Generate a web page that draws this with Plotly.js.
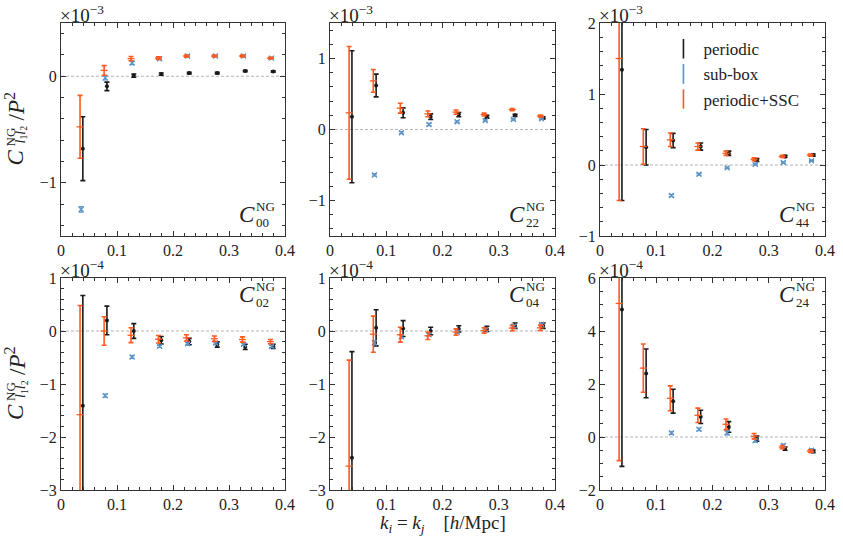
<!DOCTYPE html>
<html>
<head>
<meta charset="utf-8">
<script src="https://cdn.plot.ly/plotly-3.0.1.min.js"></script>
<style>
  body { margin: 0; background: white; }
  #chart { width: 843px; height: 538px; }
</style>
</head>
<body>
<div id="chart"></div>
<script>
// k bins (h/Mpc), slightly shifted per estimator
const kPeriodic = [0.039, 0.082, 0.13, 0.179, 0.229, 0.279, 0.329, 0.379];
const kSubbox = [0.036, 0.079, 0.127, 0.176, 0.226, 0.276, 0.326, 0.376];
const kSsc = [0.034, 0.077, 0.125, 0.174, 0.224, 0.274, 0.324, 0.374];

// C00 (x1e-3)
const c00Periodic = [-0.68, -0.095, 0.006, 0.02, 0.03, 0.03, 0.05, 0.045];
const c00PeriodicErr = [0.3, 0.04, 0.015, 0.01, 0.008, 0.008, 0.007, 0.007];
const c00Subbox = [-1.25, -0.015, 0.125, 0.165, 0.19, 0.19, 0.19, 0.17];
const c00SubboxErr = [0.025, 0.02, 0.015, 0.01, 0.008, 0.007, 0.007, 0.007];
const c00Ssc = [-0.475, 0.055, 0.165, 0.17, 0.19, 0.19, 0.19, 0.17];
const c00SscErr = [0.295, 0.045, 0.02, 0.012, 0.01, 0.008, 0.008, 0.008];

// C22 (x1e-3)
const c22Periodic = [0.18, 0.62, 0.235, 0.18, 0.21, 0.18, 0.2, 0.165];
const c22PeriodicErr = [0.93, 0.16, 0.07, 0.04, 0.03, 0.02, 0.015, 0.015];
const c22Subbox = [-2.0, -0.64, -0.045, 0.07, 0.11, 0.125, 0.14, 0.15];
const c22SubboxErr = [0.03, 0.015, 0.015, 0.015, 0.012, 0.01, 0.01, 0.01];
const c22Ssc = [0.235, 0.685, 0.3, 0.22, 0.245, 0.21, 0.28, 0.19];
const c22SscErr = [0.935, 0.16, 0.07, 0.04, 0.03, 0.02, 0.015, 0.015];

// C44 (x1e-3)
const c44Periodic = [1.34, 0.25, 0.345, 0.26, 0.165, 0.07, 0.12, 0.14];
const c44PeriodicErr = [1.84, 0.25, 0.1, 0.05, 0.03, 0.02, 0.015, 0.015];
const c44Subbox = [-1.6, -1.3, -0.43, -0.13, -0.04, 0.01, 0.035, 0.06];
const c44SubboxErr = [0.03, 0.02, 0.015, 0.012, 0.01, 0.01, 0.01, 0.01];
const c44Ssc = [1.5, 0.26, 0.355, 0.26, 0.165, 0.08, 0.12, 0.14];
const c44SscErr = [2.0, 0.25, 0.095, 0.05, 0.03, 0.02, 0.015, 0.015];

// C02 (x1e-4)
const c02Periodic = [-1.41, 0.2, 0.0, -0.175, -0.2, -0.255, -0.3, -0.29];
const c02PeriodicErr = [2.08, 0.27, 0.14, 0.07, 0.06, 0.05, 0.05, 0.04];
const c02Subbox = [-3.6, -1.22, -0.49, -0.29, -0.24, -0.225, -0.25, -0.29];
const c02SubboxErr = [0.05, 0.03, 0.025, 0.02, 0.02, 0.02, 0.02, 0.02];
const c02Ssc = [-1.58, 0.0, -0.08, -0.155, -0.13, -0.145, -0.16, -0.2];
const c02SscErr = [2.06, 0.27, 0.14, 0.07, 0.06, 0.05, 0.05, 0.04];

// C04 (x1e-4)
const c04Periodic = [-2.39, 0.06, 0.045, 0.0, 0.04, 0.04, 0.1, 0.1];
const c04PeriodicErr = [2.0, 0.34, 0.15, 0.07, 0.06, 0.05, 0.05, 0.05];
const c04Subbox = [-3.8, -0.22, -0.11, -0.07, -0.025, 0.025, 0.09, 0.125];
const c04SubboxErr = [0.05, 0.04, 0.03, 0.02, 0.02, 0.02, 0.02, 0.02];
const c04Ssc = [-2.55, -0.06, -0.07, -0.09, -0.02, 0.01, 0.055, 0.06];
const c04SscErr = [2.0, 0.34, 0.14, 0.07, 0.06, 0.05, 0.05, 0.05];

// C24 (x1e-4)
const c24Periodic = [4.81, 2.4, 1.35, 0.76, 0.38, -0.06, -0.44, -0.54];
const c24PeriodicErr = [5.92, 0.92, 0.45, 0.25, 0.2, 0.1, 0.06, 0.05];
const c24Subbox = [-2.8, -2.3, 0.15, 0.29, 0.16, -0.13, -0.32, -0.5];
const c24SubboxErr = [0.05, 0.05, 0.05, 0.05, 0.08, 0.06, 0.05, 0.05];
const c24Ssc = [5.04, 2.6, 1.46, 0.82, 0.48, 0.03, -0.38, -0.53];
const c24SscErr = [5.93, 0.91, 0.47, 0.27, 0.2, 0.1, 0.06, 0.05];

const seriesNames = ["periodic", "sub-box", "periodic+SSC"];
const panelNames = ["00", "22", "44", "02", "04", "24"];
const panelExponents = ["−3", "−3", "−3", "−4", "−4", "−4"];
const panelRanges = [[-1.5, 0.5], [-1.5, 1.5], [-1, 2], [-3, 1], [-3, 1], [-2, 6]];
const panelDticks = [1, 1, 1, 1, 1, 2];
const panelMinor = [0.2, 0.2, 0.2, 0.2, 0.2, 0.5];
const labelAtTop = [false, false, false, true, true, true];

const panels = [
  [c00Periodic, c00PeriodicErr, c00Subbox, c00SubboxErr, c00Ssc, c00SscErr],
  [c22Periodic, c22PeriodicErr, c22Subbox, c22SubboxErr, c22Ssc, c22SscErr],
  [c44Periodic, c44PeriodicErr, c44Subbox, c44SubboxErr, c44Ssc, c44SscErr],
  [c02Periodic, c02PeriodicErr, c02Subbox, c02SubboxErr, c02Ssc, c02SscErr],
  [c04Periodic, c04PeriodicErr, c04Subbox, c04SubboxErr, c04Ssc, c04SscErr],
  [c24Periodic, c24PeriodicErr, c24Subbox, c24SubboxErr, c24Ssc, c24SscErr],
];

const W = 843, H = 538;
const colPx = [[61, 285], [330, 555], [600, 825]];
const rowPx = [[23, 236], [278, 490]];

const FONT = "'Liberation Serif', serif";
const TXT = "#222";
const BLACK = "#1a1a1a";
const BLUE = "#5b93c7";
const ORANGE = "#ff5a1f";
const COLORS = [BLACK, BLUE, ORANGE];

function makeTraces() {
  const traces = [];
  panels.forEach((p, i) => {
    const ax = i === 0 ? "" : String(i + 1);
    traces.push({
      x: kPeriodic, y: p[0], type: "scatter", mode: "markers",
      name: seriesNames[0], showlegend: false,
      xaxis: "x" + ax, yaxis: "y" + ax,
      marker: { color: BLACK, size: 4, symbol: "circle" },
      error_y: { type: "data", array: p[1], color: BLACK, thickness: 1.6, width: 2.5 },
    });
    traces.push({
      x: kSubbox, y: p[2], type: "scatter", mode: "markers",
      name: seriesNames[1], showlegend: false,
      xaxis: "x" + ax, yaxis: "y" + ax,
      marker: { color: BLUE, size: 5, symbol: "x-thin-open", line: { color: BLUE, width: 1.3 } },
      error_y: { type: "data", array: p[3], color: BLUE, thickness: 1.2, width: 2.5 },
    });
    traces.push({
      x: kSsc, y: p[4], type: "scatter", mode: "markers",
      name: seriesNames[2], showlegend: false,
      xaxis: "x" + ax, yaxis: "y" + ax,
      marker: { color: ORANGE, size: 5, symbol: "line-ew-open", line: { color: ORANGE, width: 1.3 } },
      error_y: { type: "data", array: p[5], color: ORANGE, thickness: 1.6, width: 2.5 },
    });
  });

  // legend entries: vertical bar glyph like an error bar (no data of their own)
  seriesNames.forEach((name, j) => {
    traces.push({
      x: [null], y: [null], type: "scatter", mode: "markers", name: name,
      xaxis: "x3", yaxis: "y3", showlegend: true,
      marker: { color: COLORS[j], size: 14, symbol: "line-ns-open", line: { color: COLORS[j], width: 1.6 } },
    });
  });
  return traces;
}

function makeLayout() {
  const layout = {
    width: W, height: H,
    margin: { l: 0, r: 0, t: 0, b: 0 },
    paper_bgcolor: "white", plot_bgcolor: "white",
    font: { family: FONT, size: 16, color: TXT },
    showlegend: true,
    legend: {
      x: 0.787, y: 0.942, xanchor: "left", yanchor: "top",
      bgcolor: "rgba(0,0,0,0)", font: { family: FONT, size: 17, color: TXT },
      tracegroupgap: 0, itemwidth: 30,
    },
    shapes: [], annotations: [],
  };

  panels.forEach((p, i) => {
    const ax = i === 0 ? "" : String(i + 1);
    const col = colPx[i % 3], row = rowPx[Math.floor(i / 3)];
    const axisCommon = {
      showline: true, linecolor: "#333", linewidth: 1, mirror: "allticks",
      ticks: "inside", ticklen: 5, tickwidth: 1, tickcolor: "#333",
      showgrid: false, zeroline: false,
      tickfont: { family: FONT, size: 16, color: TXT },
    };
    layout["xaxis" + ax] = Object.assign({}, axisCommon, {
      domain: [col[0] / W, col[1] / W], anchor: "y" + ax,
      range: [0, 0.4], dtick: 0.1, tick0: 0,
      minor: { ticks: "inside", dtick: 0.02, ticklen: 3, tickcolor: "#333" },
    });
    layout["yaxis" + ax] = Object.assign({}, axisCommon, {
      domain: [1 - row[1] / H, 1 - row[0] / H], anchor: "x" + ax,
      range: panelRanges[i], dtick: panelDticks[i], tick0: 0,
      minor: { ticks: "inside", dtick: panelMinor[i], ticklen: 3, tickcolor: "#333" },
    });

    layout.shapes.push({
      type: "line", xref: "x" + ax + " domain", x0: 0, x1: 1,
      yref: "y" + ax, y0: 0, y1: 0, layer: "below",
      line: { color: "#b5b5b5", width: 1, dash: "3px,2px" },
    });

    // offset label
    layout.annotations.push({
      xref: "x" + ax + " domain", yref: "y" + ax + " domain", x: 0, y: 1,
      xanchor: "left", yanchor: "bottom", showarrow: false, xshift: -3, yshift: -5,
      text: "×10<sup>" + panelExponents[i] + "</sup>",
      font: { family: FONT, size: 19, color: TXT },
    });

    // panel label C^NG_ll
    const yBase = labelAtTop[i] ? 1 : 0;
    const dy = labelAtTop[i] ? -38 : 0;
    const xr = "x" + ax + " domain", yr = "y" + ax + " domain";
    layout.annotations.push({
      xref: xr, yref: yr, x: 1, y: yBase, xanchor: "right", yanchor: "bottom",
      xshift: -28, yshift: 7 + dy, showarrow: false,
      text: "<i>C</i>", font: { family: FONT, size: 23, color: TXT },
    });
    layout.annotations.push({
      xref: xr, yref: yr, x: 1, y: yBase, xanchor: "left", yanchor: "bottom",
      xshift: -31, yshift: 20 + dy, showarrow: false,
      text: "NG", font: { family: FONT, size: 13, color: TXT },
    });
    layout.annotations.push({
      xref: xr, yref: yr, x: 1, y: yBase, xanchor: "left", yanchor: "bottom",
      xshift: -31, yshift: 4 + dy, showarrow: false,
      text: panelNames[i], font: { family: FONT, size: 13, color: TXT },
    });
  });

  // y titles (stacked super/subscript built from pieces)
  ["y", "y4"].forEach((yr) => {
    const base = { xref: "paper", yref: yr + " domain", x: 0, y: 0.5, showarrow: false,
      textangle: -90, xanchor: "center", yanchor: "middle" };
    layout.annotations.push(Object.assign({}, base, {
      xshift: 15, yshift: -28, text: "<i>C</i>", font: { family: FONT, size: 23, color: TXT } }));
    layout.annotations.push(Object.assign({}, base, {
      xshift: 10, yshift: -8, text: "NG", font: { family: FONT, size: 13, color: TXT } }));
    layout.annotations.push(Object.assign({}, base, {
      xshift: 21, yshift: -5, text: "<i>l</i><sub>1</sub><i>l</i><sub>2</sub>",
      font: { family: FONT, size: 14, color: TXT } }));
    layout.annotations.push(Object.assign({}, base, {
      xshift: 15, yshift: 23, text: "/<i>P</i><sup>2</sup>", font: { family: FONT, size: 23, color: TXT } }));
  });

  // x title
  layout.annotations.push({
    xref: "x5 domain", yref: "paper", x: 0.5, y: 0, xanchor: "center", yanchor: "middle",
    yshift: 14, showarrow: false,
    text: "<i>k<sub>i</sub></i> = <i>k<sub>j</sub></i>    [<i>h</i>/Mpc]",
    font: { family: FONT, size: 19, color: TXT },
  });

  return layout;
}

Plotly.newPlot("chart", makeTraces(), makeLayout(), { staticPlot: true });
</script>
</body>
</html>
